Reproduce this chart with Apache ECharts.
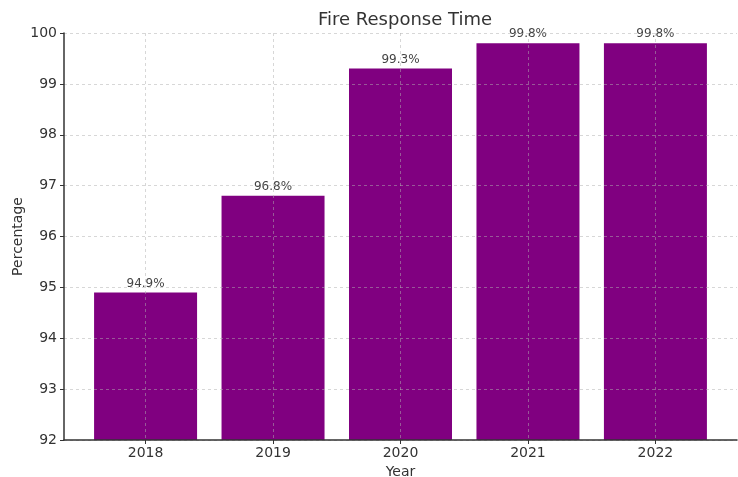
<!DOCTYPE html>
<html>
<head>
<meta charset="utf-8">
<script src="https://cdn.jsdelivr.net/npm/echarts@6/dist/echarts.min.js"></script>
<style>
  html, body { margin: 0; padding: 0; background: #fff; }
  #chart { width: 738px; height: 477px; }
</style>
</head>
<body>
<div id="chart"></div>
<script>
// data
const years = ['2018', '2019', '2020', '2021', '2022'];
const rates = [94.9, 96.8, 99.3, 99.8, 99.8];
const yTicks = [92, 93, 94, 95, 96, 97, 98, 99, 100];

const gridColor = 'rgba(176,176,176,0.5)';
const textColor = '#333';
const font = 'DejaVu Sans';

let mychart = echarts.init(document.getElementById('chart'));

mychart.setOption({
  animation: false,
  title: {
    text: 'Fire Response Time',
    left: 400, top: 6, textAlign: 'center',
    textStyle: { fontFamily: font, fontSize: 18, fontWeight: 'normal', color: textColor }
  },
  grid: { left: 64, right: 1, top: 33, bottom: 37, outerBoundsMode: 'none', containLabel: false },
  xAxis: {
    type: 'value',
    min: -0.64, max: 4.64,
    z: 3,
    name: 'Year', nameLocation: 'middle', nameGap: 21,
    nameTextStyle: { fontFamily: font, fontSize: 14, color: textColor },
    axisLine: { show: true, onZero: false, lineStyle: { color: '#333', width: 1.5 } },
    axisTick: { show: true, length: 4, customValues: years.map((y, i) => i), lineStyle: { color: '#333' } },
    axisLabel: {
      customValues: years.map((y, i) => i),
      formatter: v => years[Math.round(v)],
      fontFamily: font, fontSize: 14, color: textColor, margin: 6
    },
    splitLine: { show: true, lineStyle: { color: gridColor, type: [3, 3], width: 1 } }
  },
  yAxis: {
    type: 'value',
    min: yTicks[0], max: yTicks[yTicks.length - 1], interval: 1,
    z: 3,
    name: 'Percentage', nameLocation: 'middle', nameGap: 39, nameRotate: 90,
    nameMoveOverlap: false,
    nameTextStyle: { fontFamily: font, fontSize: 14, color: textColor },
    axisLine: { show: true, onZero: false, lineStyle: { color: '#333', width: 1.5 } },
    axisTick: { show: true, length: 4, lineStyle: { color: '#333' } },
    axisLabel: { fontFamily: font, fontSize: 14, color: textColor, margin: 7 },
    splitLine: { show: true, lineStyle: { color: gridColor, type: [3, 3], width: 1 } }
  },
  series: [{
    type: 'bar',
    data: rates.map((v, i) => [i, v]),
    barWidth: 103,
    itemStyle: { color: '#800080' },
    label: {
      show: true, position: 'top', distance: 3,
      formatter: p => p.value[1].toFixed(1) + '%',
      fontFamily: font, fontSize: 12, color: '#444'
    }
  }]
});
</script>
</body>
</html>
